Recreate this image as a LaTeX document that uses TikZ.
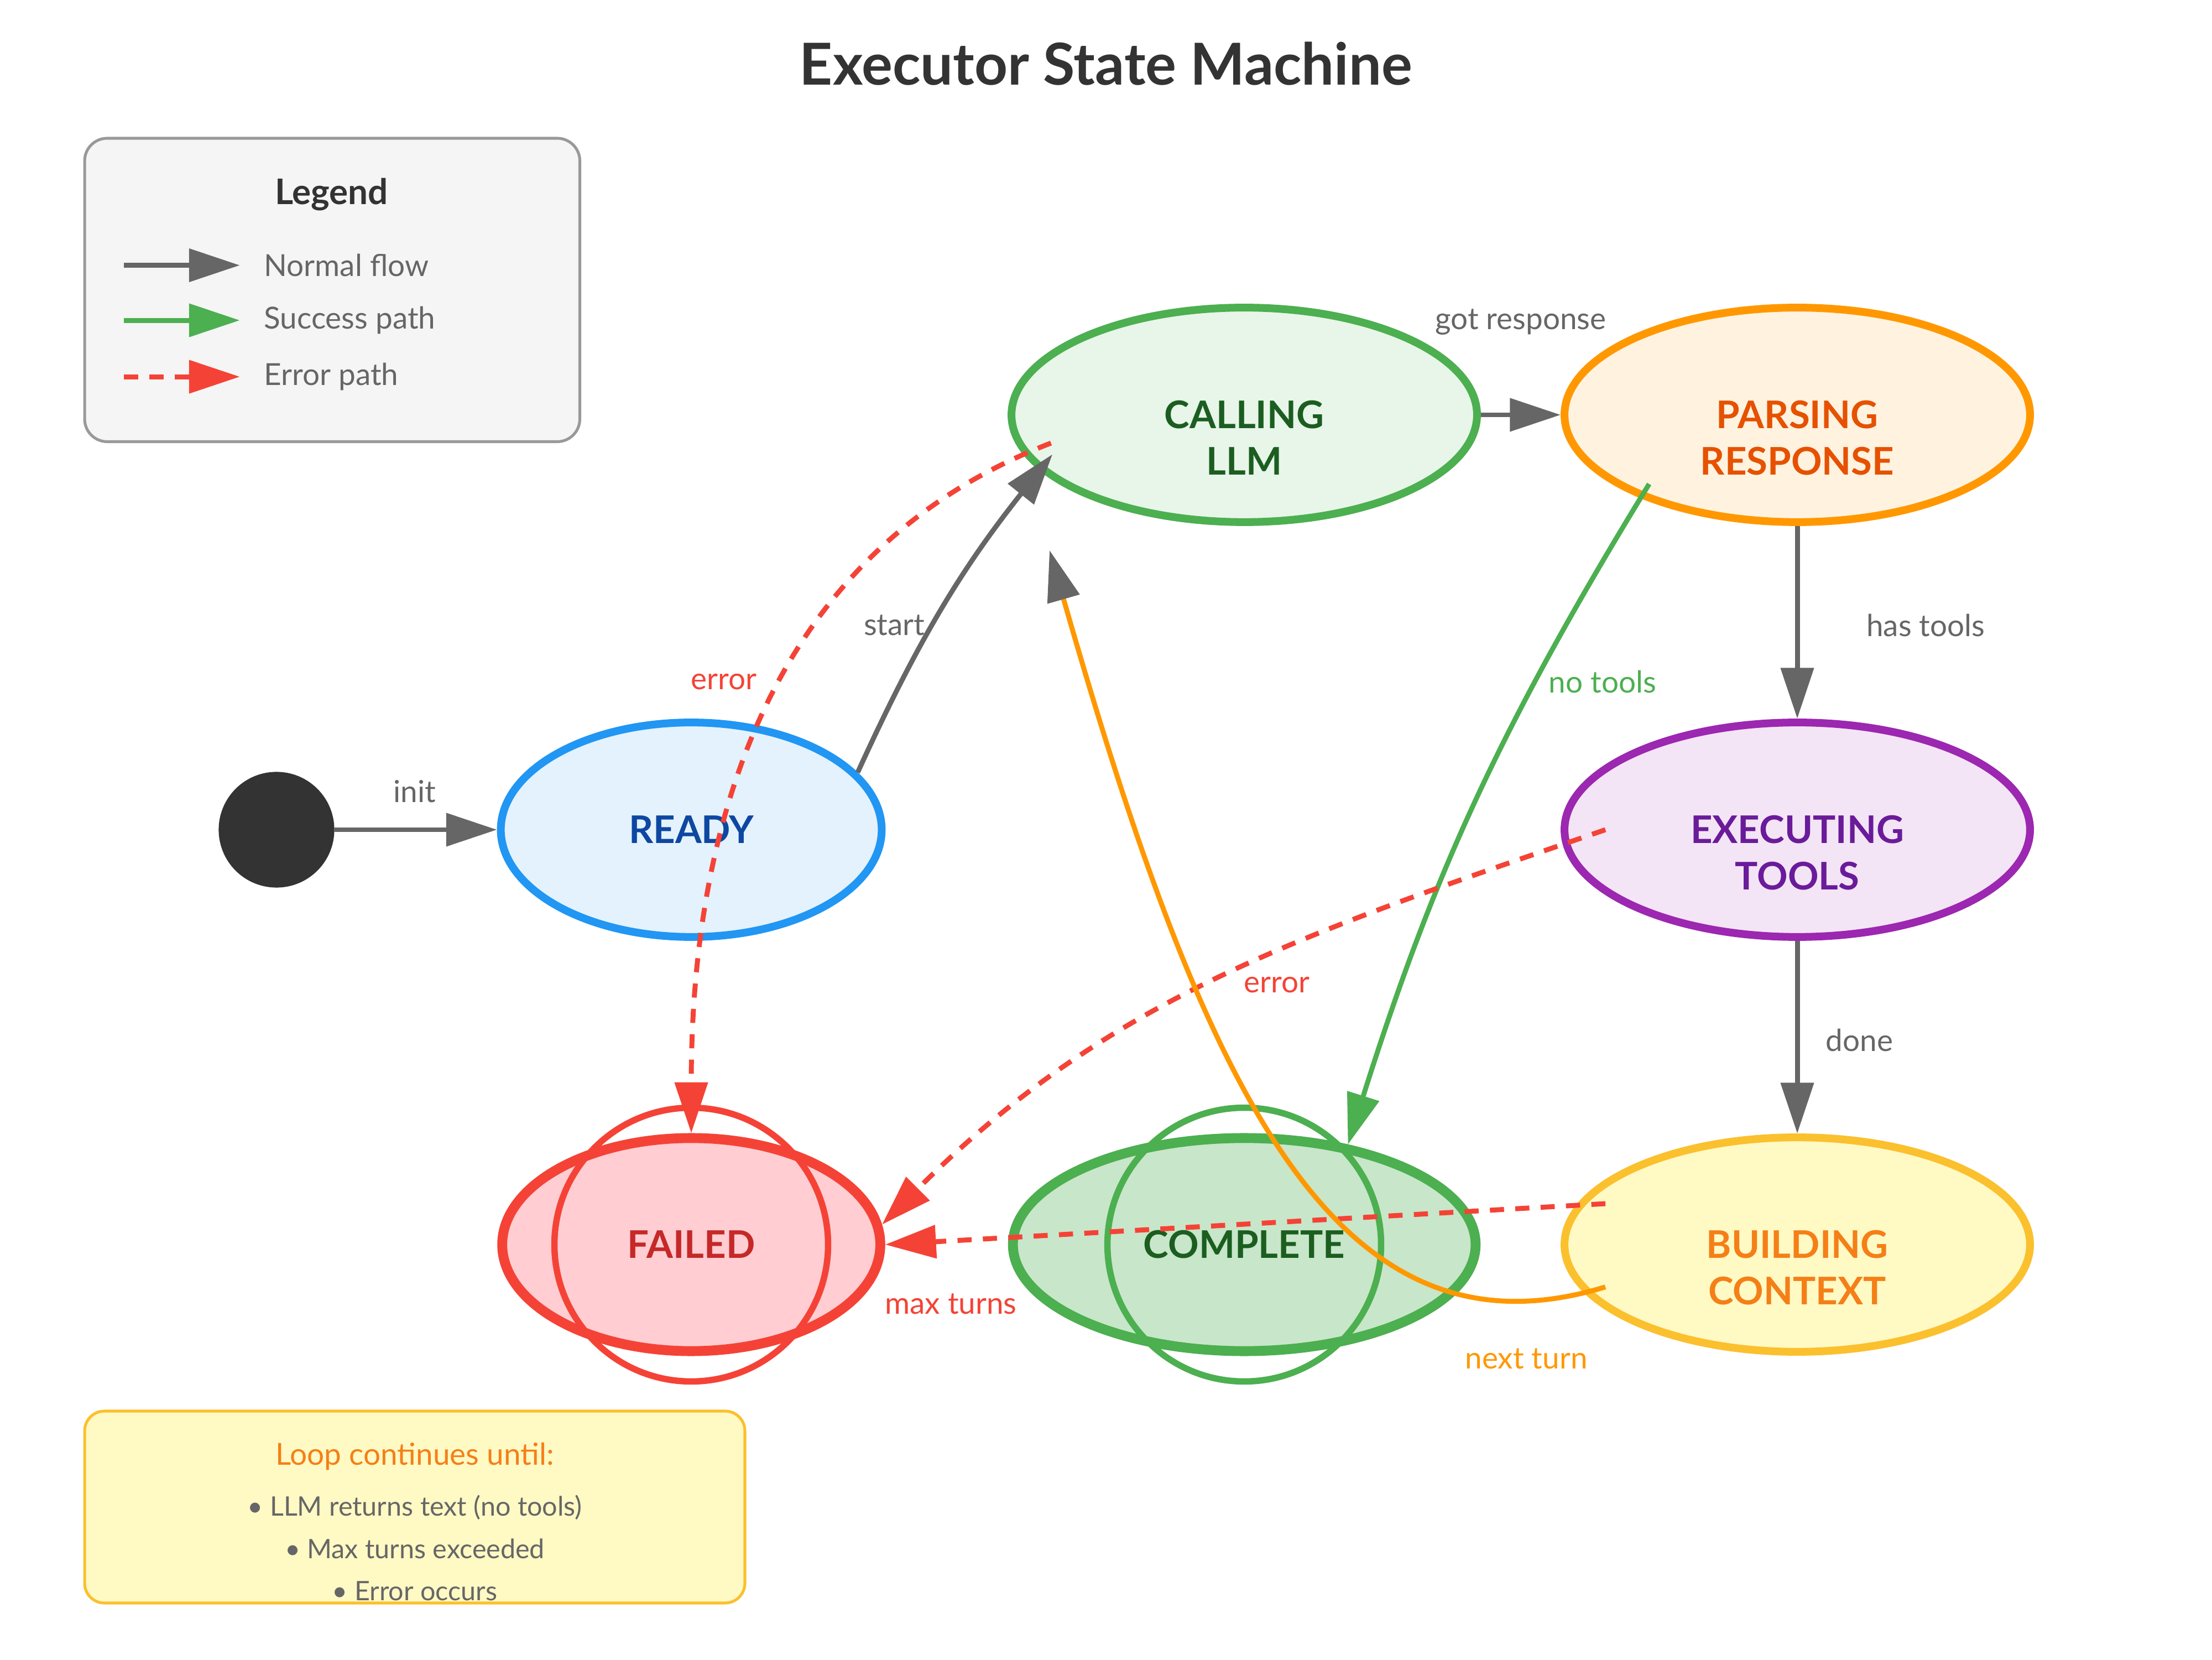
\documentclass[tikz,border=0pt]{standalone}
\usepackage{fontspec}
\setmainfont{Lato}
\usepackage{xcolor}
\usetikzlibrary{shapes.geometric, arrows.meta, positioning}

\definecolor{flowgray}{HTML}{666666}
\definecolor{titlegray}{HTML}{333333}
\definecolor{okgreen}{HTML}{4CAF50}
\definecolor{errred}{HTML}{F44336}
\definecolor{turnorange}{HTML}{FF9800}
\definecolor{readyfill}{HTML}{E3F2FD}
\definecolor{readyline}{HTML}{2196F3}
\definecolor{readytext}{HTML}{0D47A1}
\definecolor{callfill}{HTML}{E8F5E9}
\definecolor{darkgreen}{HTML}{1B5E20}
\definecolor{parsefill}{HTML}{FFF3E0}
\definecolor{parsetext}{HTML}{E65100}
\definecolor{execfill}{HTML}{F3E5F5}
\definecolor{execline}{HTML}{9C27B0}
\definecolor{exectext}{HTML}{6A1B9A}
\definecolor{buildfill}{HTML}{FFF9C4}
\definecolor{buildline}{HTML}{FBC02D}
\definecolor{buildtext}{HTML}{F57F17}
\definecolor{failfill}{HTML}{FFCDD2}
\definecolor{failtext}{HTML}{C62828}
\definecolor{donefill}{HTML}{C8E6C9}
\definecolor{legendfill}{HTML}{F5F5F5}
\definecolor{legendline}{HTML}{999999}

\begin{document}
\begin{tikzpicture}[
    x=1pt, y=1pt,
    node distance=294pt and 392pt, on grid,
    >={Triangle[length=36pt, width=23pt]},
    statenode/.style={ellipse, draw, line width=5.5pt, minimum width=330pt, minimum height=152pt, inner sep=0pt, align=center, text height=19pt, text depth=0pt, font=\fontsize{27}{33}\selectfont\bfseries},
    twoline/.style={text height=85pt},
    finalnode/.style={statenode, line width=7pt, minimum height=151pt},
    flow/.style={->, line width=3.5pt, flowgray},
    success/.style={->, line width=3.5pt, okgreen},
    failpath/.style={->, line width=3.5pt, errred, dash pattern=on 10pt off 8pt},
    lbl/.style={inner sep=0pt, font=\fontsize{21.5}{26}\selectfont, text=flowgray},
]
\fill[white] (0,0) rectangle (1568,1176);
\useasboundingbox (0,0) rectangle (1568,1176);

\node[font=\fontsize{41}{48}\selectfont\bfseries, text=titlegray] (title) at (784,1131) {Executor State Machine};

% Legend
\node[draw=legendline, fill=legendfill, line width=2pt, rounded corners=16pt, minimum width=351pt, minimum height=215pt, inner sep=0pt] (legend) at (235.5,970.5) {};
\node[font=\fontsize{25}{30}\selectfont\bfseries, text=titlegray] (legend-title) at (235,1038) {Legend};
\coordinate (lg-n1) at (88,988);
\coordinate (lg-n2) at (170,988);
\coordinate (lg-s1) at (88,949);
\coordinate (lg-s2) at (170,949);
\coordinate (lg-e1) at (88,909);
\coordinate (lg-e2) at (170,909);
\draw[flow] (lg-n1) -- (lg-n2);
\draw[success] (lg-s1) -- (lg-s2);
\draw[failpath] (lg-e1) -- (lg-e2);
\node[lbl, anchor=west] (lg-normal) at (187,988) {Normal flow};
\node[lbl, anchor=west] (lg-success) at (187,949) {Success path};
\node[lbl, anchor=west] (lg-error) at (187,909) {Error path};

% States
\node[statenode, minimum width=270pt, fill=readyfill, draw=readyline, text=readytext] (ready) at (490,588) {READY};
\node[circle, fill=titlegray, minimum size=82pt, left=294pt of ready] (start) {};
\node[statenode, twoline, fill=callfill, draw=okgreen, text=darkgreen, above right=of ready] (call) {CALLING\\LLM};
\node[statenode, twoline, fill=parsefill, draw=turnorange, text=parsetext, right=of call] (parse) {PARSING\\RESPONSE};
\node[statenode, twoline, fill=execfill, draw=execline, text=exectext, below=of parse] (exec) {EXECUTING\\TOOLS};
\node[statenode, twoline, fill=buildfill, draw=buildline, text=buildtext, below=of exec] (build) {BUILDING\\CONTEXT};
\node[finalnode, fill=donefill, draw=okgreen, text=darkgreen, minimum width=328pt, left=of build] (complete) {COMPLETE};
\node[finalnode, fill=failfill, draw=errred, text=failtext, minimum width=268pt, left=of complete] (failed) {FAILED};
\draw[errred, line width=4.5pt] (failed.center) circle[radius=97pt];
\draw[okgreen, line width=4.5pt] (complete.center) circle[radius=97pt];

\coordinate (call-in) at ([shift={(-136,-28)}]call.center);
\coordinate (call-err) at ([shift={(-137,-20)}]call.center);
\coordinate (call-back) at ([shift={(-138,-96)}]call.center);
\coordinate (parse-out) at ([shift={(-105,-49)}]parse.center);
\coordinate (exec-err) at ([shift={(-136,0)}]exec.center);
\coordinate (build-err) at ([shift={(-136,29)}]build.center);
\coordinate (build-turn) at ([shift={(-136,-30)}]build.center);

% Transitions
\draw[flow] (start.east) -- (ready.west);
\draw[flow] (ready.19) to[bend left=7] (call-in);
\draw[flow] (call) -- (parse);
\draw[flow] (parse) -- (exec);
\draw[flow] (exec) -- (build);
\draw[success] (parse-out) to[bend right=7] (complete.44);
\draw[failpath] (call-err) to[out=201, in=90] (failed.north);
\draw[failpath] (exec-err) to[out=199, in=45] (failed.6);
\draw[failpath] (build-err) -- (failed.east);
\draw[line width=3.5pt, turnorange, -{Triangle[length=36pt, width=23pt, color=flowgray]}] (build-turn) to[out=197, in=-74, out distance=200pt, in distance=400pt] (call-back);

% Transition labels
\node[lbl] (init-lbl) at (294,615) {init};
\node[lbl] (start-lbl) at (634,733) {start};
\node[lbl] (got-lbl) at (1078,948) {got response};
\node[lbl] (has-lbl) at (1365,733) {has tools};
\node[lbl] (done-lbl) at (1318,439) {done};
\node[lbl, text=okgreen] (notools-lbl) at (1136,693) {no tools};
\node[lbl, text=errred] (err-lbl) at (513,693) {error};
\node[lbl, text=errred] (exec-err-lbl) at (905,478) {error};
\node[lbl, text=errred] (max-lbl) at (674,252) {max turns};
\node[lbl, text=turnorange] (turn-lbl) at (1082,213) {next turn};

% Loop note
\node[draw=buildline, fill=buildfill, line width=2pt, rounded corners=14pt, minimum width=468pt, minimum height=136pt, inner sep=0pt] (note) at (294,108) {};
\node[font=\fontsize{21.5}{26}\selectfont, text=buildtext] (note-title) at (294,144) {Loop continues until:};
\node[font=\fontsize{19}{30}\selectfont, text=flowgray, align=center] (note-body) at (294,79) {• LLM returns text (no tools)\\• Max turns exceeded\\• Error occurs};

\end{tikzpicture}
\end{document}
